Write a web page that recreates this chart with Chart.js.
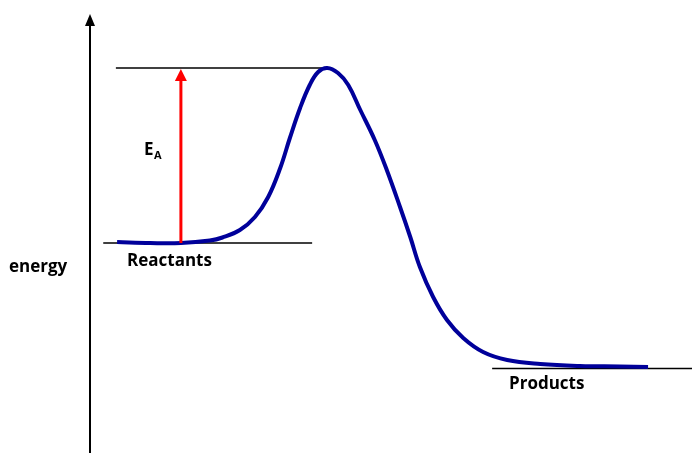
<!DOCTYPE html>
<html>
<head>
<meta charset="utf-8">
<script src="https://cdn.jsdelivr.net/npm/chart.js@4"></script>
<style>
  html, body { margin: 0; padding: 0; background: #fff; }
  #wrap { width: 692px; height: 453px; position: relative; }
</style>
</head>
<body>
<div id="wrap"><canvas id="c"></canvas></div>
<script>
// reaction progress (0-100) and energy (arbitrary units, products = 0)
const curveX = [4.5, 10.0, 15.1, 19.9, 22.0, 24.9, 27.4, 29.6, 31.6, 33.2, 34.9, 36.5, 37.9, 39.4, 41.2, 42.9, 44.9, 47.3, 49.3, 51.5, 53.2, 54.8, 57.0, 59.3, 62.0, 65.3, 69.3, 74.8, 81.4, 88.0, 92.7];
const curveE = [50.4, 50.0, 50.0, 51.0, 52.2, 55.2, 60.4, 68.4, 80.0, 92.0, 104, 113.2, 118.4, 120, 118, 113.2, 103.2, 91.2, 79.2, 64.4, 52.4, 40.4, 28.4, 19.2, 12.0, 6.4, 3.2, 1.6, 0.8, 0.6, 0.4];

const transitionLine = { x: [4.3, 39.0], e: 120 };
const reactantLine = { x: [2.2, 36.9], e: 50 };
const productLine = { x: [66.8, 100], e: -0.2 };
const activationArrow = { x: 15.1, from: 50, to: 120 };

const axisLabel = 'energy';
const reactantLabel = 'Reactants';
const productLabel = 'Products';

const toPts = (xs, e) => xs.map(x => ({ x: x, y: e }));

const drawExtras = {
  id: 'drawExtras',
  afterDatasetsDraw(chart) {
    const { ctx, chartArea, scales } = chart;
    const xs = scales.x, ys = scales.y;
    ctx.save();

    // energy axis with arrowhead
    const ax = chartArea.left;
    ctx.strokeStyle = '#000';
    ctx.fillStyle = '#000';
    ctx.lineWidth = 2;
    ctx.beginPath();
    ctx.moveTo(ax, chart.height);
    ctx.lineTo(ax, chartArea.top + 10);
    ctx.stroke();
    ctx.beginPath();
    ctx.moveTo(ax, chartArea.top);
    ctx.lineTo(ax - 5, chartArea.top + 12);
    ctx.lineTo(ax + 5, chartArea.top + 12);
    ctx.closePath();
    ctx.fill();

    // activation energy arrow
    const rx = xs.getPixelForValue(activationArrow.x);
    const y0 = ys.getPixelForValue(activationArrow.from);
    const y1 = ys.getPixelForValue(activationArrow.to);
    ctx.strokeStyle = '#ff0000';
    ctx.fillStyle = '#ff0000';
    ctx.lineWidth = 3;
    ctx.beginPath();
    ctx.moveTo(rx, y0);
    ctx.lineTo(rx, y1 + 10);
    ctx.stroke();
    ctx.beginPath();
    ctx.moveTo(rx, y1 + 1);
    ctx.lineTo(rx - 6, y1 + 13);
    ctx.lineTo(rx + 6, y1 + 13);
    ctx.closePath();
    ctx.fill();

    // text
    ctx.fillStyle = '#000';
    ctx.textBaseline = 'middle';
    ctx.textAlign = 'left';
    ctx.font = 'bold 17px "Open Sans", sans-serif';
    ctx.fillText(axisLabel, 9, 267);
    ctx.fillText(reactantLabel, 127, ys.getPixelForValue(reactantLine.e) + 18);
    ctx.fillText(productLabel, 509, ys.getPixelForValue(productLine.e) + 16);
    const ey = (y0 + y1) / 2 - 5;
    ctx.fillText('E', 144, ey);
    ctx.font = 'bold 11px "Open Sans", sans-serif';
    ctx.fillText('A', 154, ey + 5);
    ctx.restore();
  }
};

new Chart(document.getElementById('c'), {
  type: 'scatter',
  data: {
    datasets: [
      {
        label: 'energy profile',
        data: curveX.map((x, i) => ({ x: x, y: curveE[i] })),
        showLine: true,
        borderColor: '#00009a',
        borderWidth: 4,
        pointRadius: 0,
        tension: 0.4,
        order: 0
      },
      {
        label: 'transition state',
        data: toPts(transitionLine.x, transitionLine.e),
        showLine: true,
        borderColor: '#000',
        borderWidth: 1.3,
        pointRadius: 0,
        order: 1
      },
      {
        label: 'reactants',
        data: toPts(reactantLine.x, reactantLine.e),
        showLine: true,
        borderColor: '#000',
        borderWidth: 1.3,
        pointRadius: 0,
        order: 1
      },
      {
        label: 'products',
        data: toPts(productLine.x, productLine.e),
        showLine: true,
        borderColor: '#000',
        borderWidth: 1.3,
        pointRadius: 0,
        order: 1
      }
    ]
  },
  options: {
    responsive: true,
    maintainAspectRatio: false,
    animation: false,
    layout: { padding: { left: 90, top: 14, right: 0, bottom: 0 } },
    plugins: {
      legend: { display: false },
      tooltip: { enabled: false }
    },
    scales: {
      x: { type: 'linear', display: false, min: 0, max: 100 },
      y: { type: 'linear', display: false, min: -34, max: 141.6 }
    }
  },
  plugins: [drawExtras]
});
</script>
</body>
</html>
